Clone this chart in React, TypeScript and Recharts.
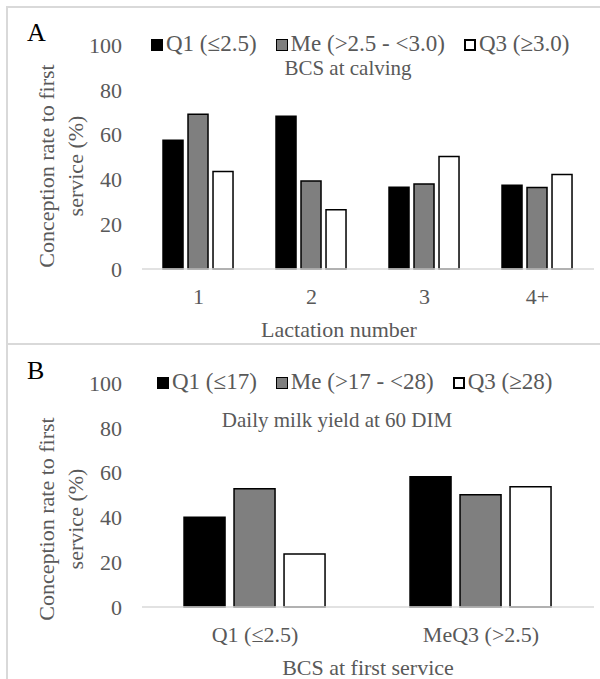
import React from "react";
import { Bar, BarChart, Legend, XAxis, YAxis } from "recharts";

const FONT = '"Liberation Serif", "Times New Roman", serif';
const TEXT = "#595959";
const AXIS = "#d9d9d9";

const yTicks = [0, 20, 40, 60, 80, 100];

// panel A: BCS at calving by lactation number
const lactationNumbers = ["1", "2", "3", "4+"];
const calvingQ1 = [57.5, 68.2, 36.5, 37.4];
const calvingMe = [69.1, 39.3, 37.9, 36.4];
const calvingQ3 = [43.5, 26.4, 50.2, 42.2];
const calvingLegend = ["Q1 (≤2.5)", "Me (>2.5 - <3.0)", "Q3 (≥3.0)"];

// panel B: daily milk yield at 60 DIM by BCS at first service
const serviceBcs = ["Q1 (≤2.5)", "MeQ3 (>2.5)"];
const milkQ1 = [40.1, 58.2];
const milkMe = [52.8, 50.1];
const milkQ3 = [23.7, 53.7];
const milkLegend = ["Q1 (≤17)", "Me (>17 - <28)", "Q3 (≥28)"];

const fills = ["#000000", "#7f7f7f", "#ffffff"];
const markerBorders = [1, 1.5, 2];
const keys = ["q1", "me", "q3"];

const X_AXIS_H = 30;

type PanelProps = {
  top: number;
  height: number;
  categories: string[];
  series: number[][];
  legend: string[];
  legendLeft: number;
  subtitle: string;
  subtitleX: number;
  subtitleY: number;
  xTitle: string;
  xTitleX: number;
  yTitleShift: number;
  barGap: number;
};

function Panel(p: PanelProps) {
  const data = p.categories.map((name, i) => ({
    name,
    q1: p.series[0][i],
    me: p.series[1][i],
    q3: p.series[2][i],
  }));

  const yTitle = (props: any) => {
    const vb = props.viewBox;
    const cy = vb.y + vb.height / 2 + p.yTitleShift;
    return (
      <g fill={TEXT} fontFamily={FONT} fontSize={22}>
        <text
          x={46}
          y={cy}
          transform={`rotate(-90 46 ${cy})`}
          textAnchor="middle"
          dominantBaseline="central"
        >
          Conception rate to first
        </text>
        <text
          x={75}
          y={cy}
          transform={`rotate(-90 75 ${cy})`}
          textAnchor="middle"
          dominantBaseline="central"
        >
          service (%)
        </text>
      </g>
    );
  };

  const xTitle = () => (
    <text
      x={p.xTitleX}
      y={329}
      textAnchor="middle"
      dominantBaseline="central"
      fill={TEXT}
      fontFamily={FONT}
      fontSize={22}
    >
      {p.xTitle}
    </text>
  );

  return (
    <div style={{ position: "absolute", left: 0, top: p.top }}>
      <BarChart
        width={600}
        height={p.height}
        data={data}
        margin={{ top: 45, right: 6, bottom: p.height - 269 - X_AXIS_H, left: 0 }}
        barCategoryGap="18.6%"
        barGap={p.barGap}
      >
        <YAxis
          type="number"
          domain={[0, 100]}
          ticks={yTicks}
          width={142}
          axisLine={false}
          tickLine={false}
          tickSize={0}
          tickMargin={20}
          tick={{ fill: TEXT, fontSize: 22, fontFamily: FONT }}
          label={{ content: yTitle }}
        />
        <XAxis
          dataKey="name"
          height={X_AXIS_H}
          axisLine={{ stroke: AXIS, strokeWidth: 1.5 }}
          tickLine={false}
          tickSize={0}
          tickMargin={19}
          tick={{ fill: TEXT, fontSize: 22, fontFamily: FONT }}
          label={{ content: xTitle }}
        />
        <Legend
          layout="horizontal"
          verticalAlign="middle"
          align="center"
          wrapperStyle={{ top: 31, left: p.legendLeft, width: "auto", height: "auto" }}
          content={() => (
            <div style={{ position: "relative" }}>
              <div
                style={{
                  display: "flex",
                  fontFamily: FONT,
                  fontSize: 23,
                  lineHeight: "26px",
                  color: TEXT,
                  whiteSpace: "nowrap",
                }}
              >
                {p.legend.map((name, i) => (
                  <span
                    key={name}
                    style={{ display: "flex", alignItems: "center", marginRight: i < 2 ? 19 : 0 }}
                  >
                    <span
                      style={{
                        display: "inline-block",
                        width: 12,
                        height: 12,
                        background: fills[i],
                        border: `${markerBorders[i]}px solid #000`,
                        boxSizing: "border-box",
                        marginRight: 3,
                        marginTop: 2,
                      }}
                    />
                    {name}
                  </span>
                ))}
              </div>
              <div
                style={{
                  position: "absolute",
                  left: p.subtitleX - p.legendLeft,
                  top: p.subtitleY - 31,
                  transform: "translate(-50%, -50%)",
                  fontFamily: FONT,
                  fontSize: 21,
                  lineHeight: "22px",
                  color: TEXT,
                  whiteSpace: "nowrap",
                }}
              >
                {p.subtitle}
              </div>
            </div>
          )}
        />
        {keys.map((k, i) => (
          <Bar
            key={k}
            dataKey={k}
            name={p.legend[i]}
            fill={fills[i]}
            stroke="#000"
            strokeWidth={1.5}
            isAnimationActive={false}
          />
        ))}
      </BarChart>
    </div>
  );
}

export default function App() {
  return (
    <div
      style={{
        position: "absolute",
        left: 0,
        top: 0,
        width: 600,
        height: 679,
        overflow: "hidden",
        background: "#fff",
      }}
    >
      <div
        style={{
          position: "absolute",
          left: 6,
          top: 6,
          width: 640,
          height: 339,
          border: `2px solid ${AXIS}`,
          boxSizing: "border-box",
        }}
      />
      <div
        style={{
          position: "absolute",
          left: 6,
          top: 343,
          width: 640,
          height: 400,
          border: `2px solid ${AXIS}`,
          boxSizing: "border-box",
        }}
      />
      <Panel
        top={0}
        height={344}
        categories={lactationNumbers}
        series={[calvingQ1, calvingMe, calvingQ3]}
        legend={calvingLegend}
        legendLeft={151}
        subtitle="BCS at calving"
        subtitleX={348}
        subtitleY={68}
        xTitle="Lactation number"
        xTitleX={339}
        yTitleShift={9}
        barGap={5}
      />
      <Panel
        top={338}
        height={341}
        categories={serviceBcs}
        series={[milkQ1, milkMe, milkQ3]}
        legend={milkLegend}
        legendLeft={157}
        subtitle="Daily milk yield at 60 DIM"
        subtitleX={337}
        subtitleY={82}
        xTitle="BCS at first service"
        xTitleX={368}
        yTitleShift={24}
        barGap={9}
      />
      <div
        style={{
          position: "absolute",
          left: 27,
          top: 20,
          fontFamily: FONT,
          fontSize: 26,
          lineHeight: "26px",
          color: "#000",
        }}
      >
        A
      </div>
      <div
        style={{
          position: "absolute",
          left: 27,
          top: 358,
          fontFamily: FONT,
          fontSize: 26,
          lineHeight: "26px",
          color: "#000",
        }}
      >
        B
      </div>
    </div>
  );
}
